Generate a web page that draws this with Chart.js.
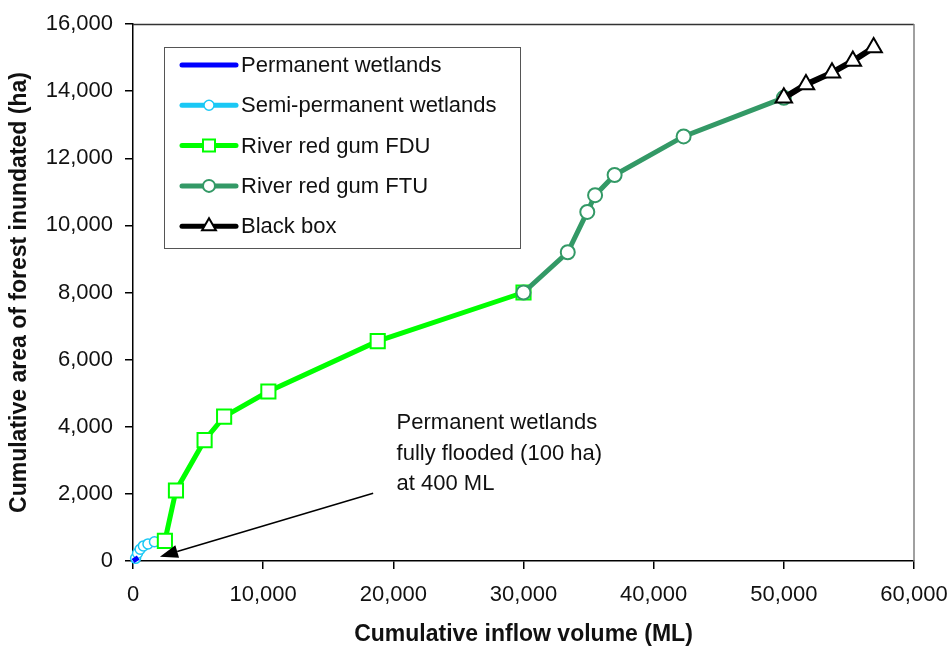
<!DOCTYPE html>
<html><head><meta charset="utf-8">
<script src="https://cdn.jsdelivr.net/npm/chart.js@4/dist/chart.umd.min.js"></script>
<style>html,body{margin:0;padding:0;background:#fff;}#wrap{width:949px;height:646px;}</style>
</head><body><div id="wrap"><canvas id="c" width="949" height="646"></canvas></div>
<script>
// ---- data ----
const seriesNames = ["Permanent wetlands","Semi-permanent wetlands","River red gum FDU","River red gum FTU","Black box"];
const permanentX = [0, 400];
const permanentY = [0, 100];
const semiX = [200, 350, 550, 800, 1150, 1650];
const semiY = [80, 230, 350, 450, 510, 575];
const fduX = [2450, 3300, 5500, 7000, 10400, 18800, 30000];
const fduY = [600, 2100, 3600, 4300, 5050, 6550, 8000];
const ftuX = [30000, 33400, 34900, 35500, 37000, 42300, 50000];
const ftuY = [8000, 9200, 10400, 10900, 11500, 12650, 13800];
const bbX = [50000, 51700, 53700, 55300, 56900];
const bbY = [13800, 14200, 14550, 14900, 15300];
const xTicks = [0, 10000, 20000, 30000, 40000, 50000, 60000];
const yTicks = [0, 2000, 4000, 6000, 8000, 10000, 12000, 14000, 16000];
const xTitle = "Cumulative inflow volume (ML)";
const yTitle = "Cumulative area of forest inundated (ha)";
const noteLines = ["Permanent wetlands", "fully flooded (100 ha)", "at 400 ML"];
const noteAnchor = [20250, 4110];   // data coords of first text line (left, middle)
const arrowTip = [2070, 130];
const arrowTail = [18450, 2020];

const pts = (xs, ys) => xs.map((x, i) => ({x, y: ys[i]}));
const FONT = "'Liberation Sans', Arial, sans-serif";

const styles = [
  {color:'#0000FF', pointStyle:'circle', radius:0, legendRadius:0, lw:5},
  {color:'#1AC8F5', pointStyle:'circle', radius:5, legendRadius:5, lw:5, bw:1.5},
  {color:'#00FF00', pointStyle:'rect', radius:10, legendRadius:8.5, lw:5, bw:2},
  {color:'#339966', pointStyle:'circle', radius:7, legendRadius:6, lw:5, bw:2},
  {color:'#000000', pointStyle:'triangle', radius:9.5, legendRadius:8, lw:6, bw:2}
];
const dataArrays = [pts(permanentX, permanentY), pts(semiX, semiY), pts(fduX, fduY), pts(ftuX, ftuY), pts(bbX, bbY)];
const orders = [-1, 3, 2, 1, 0];

const datasets = dataArrays.map((d, i) => ({
  label: seriesNames[i],
  data: d,
  order: orders[i],
  borderColor: styles[i].color,
  backgroundColor: '#FFFFFF',
  borderWidth: styles[i].lw,
  pointStyle: styles[i].pointStyle,
  pointRadius: styles[i].radius,
  pointHoverRadius: styles[i].radius,
  pointBorderColor: styles[i].color,
  pointBackgroundColor: '#FFFFFF',
  pointBorderWidth: styles[i].bw || 0,
  showLine: true,
  tension: 0,
  clip: false
}));

const framePlugin = {
  id: 'frame',
  beforeDatasetsDraw(chart) {
    const {ctx, chartArea: a} = chart;
    ctx.save();
    ctx.lineWidth = 1.5;
    ctx.strokeStyle = '#333';
    ctx.beginPath();
    ctx.moveTo(a.left, a.top + 0.5);
    ctx.lineTo(a.right, a.top + 0.5);
    ctx.stroke();
    ctx.strokeStyle = '#808080';
    ctx.beginPath();
    ctx.moveTo(a.right, a.top);
    ctx.lineTo(a.right, a.bottom);
    ctx.stroke();
    ctx.restore();
  }
};

function drawShape(ctx, style, r, x, y) {
  if (style === 'circle') { ctx.arc(x, y, r, 0, Math.PI * 2); }
  else if (style === 'rect') { const h = r * Math.SQRT1_2; ctx.rect(x - h, y - h, 2 * h, 2 * h); }
  else if (style === 'triangle') {
    ctx.moveTo(x, y - r);
    ctx.lineTo(x + r * Math.sin(Math.PI * 2 / 3), y - r * Math.cos(Math.PI * 2 / 3));
    ctx.lineTo(x + r * Math.sin(Math.PI * 4 / 3), y - r * Math.cos(Math.PI * 4 / 3));
    ctx.closePath();
  }
}

const legendPlugin = {
  id: 'customLegend',
  afterDraw(chart) {
    const {ctx, chartArea: a} = chart;
    const bx = a.left + 31, by = a.top + 23, bw = 356, bh = 201;
    ctx.save();
    ctx.fillStyle = '#fff';
    ctx.fillRect(bx, by, bw, bh);
    ctx.strokeStyle = '#555';
    ctx.lineWidth = 1;
    ctx.strokeRect(bx + 0.5, by + 0.5, bw, bh);
    ctx.font = '22px ' + FONT;
    ctx.textBaseline = 'middle';
    ctx.textAlign = 'left';
    seriesNames.forEach((name, i) => {
      const y = by + 18 + i * 40.3;
      const s = styles[i];
      ctx.strokeStyle = s.color;
      ctx.lineWidth = 5;
      ctx.lineCap = 'round';
      ctx.beginPath();
      ctx.moveTo(bx + 18, y);
      ctx.lineTo(bx + 72, y);
      ctx.stroke();
      if (s.legendRadius > 0) {
        ctx.fillStyle = '#fff';
        ctx.strokeStyle = s.color;
        ctx.lineWidth = s.bw;
        ctx.beginPath();
        drawShape(ctx, s.pointStyle, s.legendRadius, bx + 45, y);
        ctx.fill();
        ctx.stroke();
      }
      ctx.fillStyle = '#111';
      ctx.fillText(name, bx + 77, y + 1);
    });
    ctx.restore();
  }
};

const notePlugin = {
  id: 'note',
  afterDatasetsDraw(chart) {
    const {ctx, scales: {x, y}} = chart;
    ctx.save();
    const tx = x.getPixelForValue(arrowTail[0]), ty = y.getPixelForValue(arrowTail[1]);
    const hx = x.getPixelForValue(arrowTip[0]), hy = y.getPixelForValue(arrowTip[1]);
    const ang = Math.atan2(hy - ty, hx - tx);
    const headLen = 18, headW = 6.5;
    const bxp = hx - headLen * Math.cos(ang), byp = hy - headLen * Math.sin(ang);
    ctx.strokeStyle = '#000';
    ctx.lineWidth = 1.5;
    ctx.beginPath();
    ctx.moveTo(tx, ty);
    ctx.lineTo(bxp, byp);
    ctx.stroke();
    ctx.fillStyle = '#000';
    ctx.beginPath();
    ctx.moveTo(hx, hy);
    ctx.lineTo(bxp + headW * Math.sin(ang), byp - headW * Math.cos(ang));
    ctx.lineTo(bxp - headW * Math.sin(ang), byp + headW * Math.cos(ang));
    ctx.closePath();
    ctx.fill();
    ctx.font = '22px ' + FONT;
    ctx.fillStyle = '#111';
    ctx.textBaseline = 'middle';
    ctx.textAlign = 'left';
    const nx = x.getPixelForValue(noteAnchor[0]), ny = y.getPixelForValue(noteAnchor[1]);
    noteLines.forEach((t, i) => ctx.fillText(t, nx, ny + i * 30.5));
    ctx.restore();
  }
};

const tickFmt = v => Number(v).toLocaleString('en-US');

new Chart(document.getElementById('c'), {
  type: 'scatter',
  data: {datasets},
  options: {
    responsive: false,
    devicePixelRatio: 1,
    animation: false,
    layout: {padding: {top: 24, right: 35, left: 8, bottom: 0}},
    plugins: {legend: {display: false}, tooltip: {enabled: false}},
    scales: {
      x: {
        type: 'linear', min: 0, max: 60000,
        afterBuildTicks: s => { s.ticks = xTicks.map(v => ({value: v})); },
        afterFit: s => { s.height = 85; s.paddingLeft = 0; s.paddingRight = 0; },
        grid: {display: true, drawOnChartArea: false, drawTicks: true, tickLength: 8, color: '#000', lineWidth: 1.5},
        border: {display: true, color: '#000', width: 1.5},
        ticks: {color: '#111', font: {family: FONT, size: 22}, padding: 13, callback: tickFmt, maxRotation: 0, autoSkip: false},
        title: {display: true, text: xTitle, color: '#111', font: {family: FONT, size: 23, weight: 'bold', lineHeight: 1}, padding: 0}
      },
      y: {
        type: 'linear', min: 0, max: 16000,
        afterBuildTicks: s => { s.ticks = yTicks.map(v => ({value: v})); },
        afterFit: s => { s.width = 125; s.paddingTop = 0; s.paddingBottom = 0; },
        grid: {display: true, drawOnChartArea: false, drawTicks: true, tickLength: 8, color: '#000', lineWidth: 1.5},
        border: {display: true, color: '#000', width: 1.5},
        ticks: {color: '#111', font: {family: FONT, size: 22}, padding: 12, callback: tickFmt, autoSkip: false},
        title: {display: true, text: yTitle, color: '#111', font: {family: FONT, size: 23, weight: 'bold', lineHeight: 1}, padding: 0}
      }
    }
  },
  plugins: [framePlugin, notePlugin, legendPlugin]
});
</script></body></html>
